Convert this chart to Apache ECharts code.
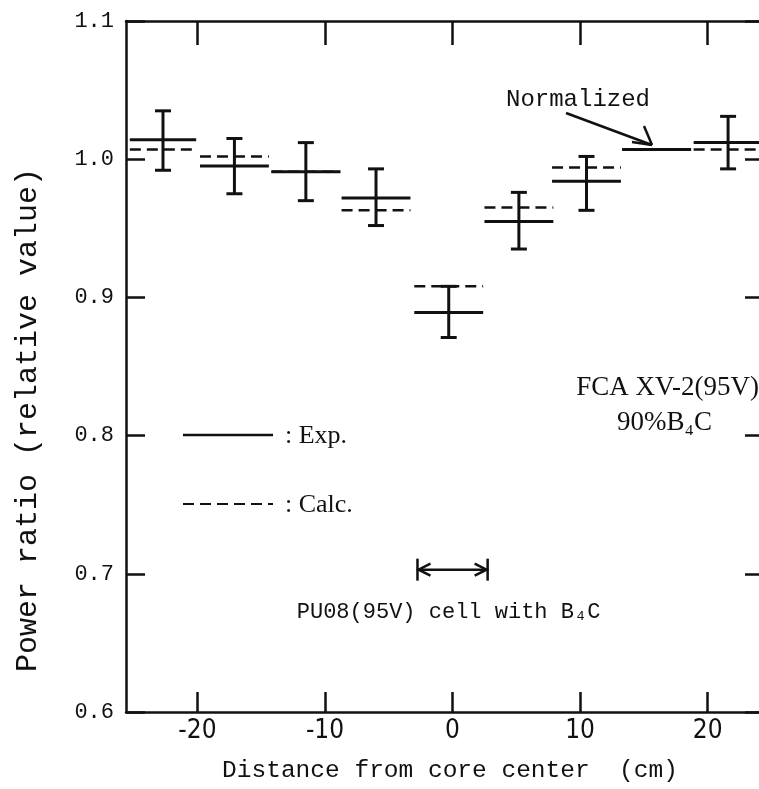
<!DOCTYPE html>
<html><head><meta charset="utf-8">
<script src="https://cdn.jsdelivr.net/npm/echarts@6/dist/echarts.min.js"></script>
<style>html,body{margin:0;padding:0;background:#fff}#c{width:759px;height:789px}</style>
</head><body><div id="c"></div>
<script>
// ---- data ----
const positions   = [-22.7, -17.1, -11.5, -6.0, -0.3, 5.2, 10.5, 16.0, 21.6];
const cellHalfWidth = [2.6, 2.7, 2.7, 2.7, 2.7, 2.7, 2.7, 2.7, 2.7];
const expValues   = [1.014, 0.995, 0.991, 0.972, 0.889, 0.955, 0.984, 1.007, 1.012];
const calcValues  = [1.007, 1.002, 0.991, 0.963, 0.908, 0.965, 0.994, 1.007, 1.007];
const errLow      = [0.992, 0.975, 0.970, 0.952, 0.871, 0.935, 0.963, null, 0.993];
const errHigh     = [1.035, 1.015, 1.012, 0.993, 0.908, 0.976, 1.002, null, 1.031];
const xTickValues = [-20, -10, 0, 10, 20];
const cellRange   = [-2.75, 2.75];
const cellArrowY  = 0.703;

const INK = '#111';
const MONO = '"Liberation Mono", "DejaVu Sans Mono", monospace';
const SERIF = '"Liberation Serif", "DejaVu Serif", serif';
const NARROW = '"Liberation Sans Narrow", "DejaVu Sans Condensed", "Liberation Sans", sans-serif';

const chart = echarts.init(document.getElementById('c'), null, {renderer: 'canvas'});

function segSeries(name, values, dash, width) {
  return {
    type: 'custom', name: name, xAxisIndex: 0, yAxisIndex: 0, clip: false,
    data: positions.map((x, i) => [x, values[i], cellHalfWidth[i]]),
    encode: {x: 0, y: 1},
    renderItem: function (params, api) {
      const x = api.value(0), y = api.value(1), hw = api.value(2);
      const a = api.coord([x - hw, y]), b = api.coord([x + hw, y]);
      return {type: 'line', shape: {x1: a[0], y1: a[1], x2: b[0], y2: b[1]},
        style: {stroke: INK, lineWidth: width, lineDash: dash}};
    }
  };
}

const errData = [];
positions.forEach((x, i) => { if (errLow[i] != null) errData.push([x, errLow[i], errHigh[i]]); });

const option = {
  backgroundColor: '#fff',
  animation: false,
  grid: {left: 126, top: 21, width: 648, height: 691, outerBoundsMode: 'none', containLabel: false},
  xAxis: [{
    type: 'value', min: -25.6, max: 25.2, position: 'bottom',
    name: 'Distance from core center  (cm)', nameLocation: 'middle', nameGap: 46,
    nameTextStyle: {fontFamily: MONO, fontSize: 24.5, color: INK},
    axisLine: {show: true, onZero: false, lineStyle: {color: INK, width: 2.5}},
    axisTick: {show: true, inside: true, length: 20, customValues: xTickValues, lineStyle: {color: INK, width: 2.5}},
    axisLabel: {show: true, customValues: xTickValues, margin: 6, fontFamily: NARROW, fontSize: 26, color: INK},
    splitLine: {show: false}
  }, {
    type: 'value', min: -25.6, max: 25.2, position: 'top',
    axisLine: {show: true, onZero: false, lineStyle: {color: INK, width: 2.5}},
    axisTick: {show: true, inside: true, length: 24, customValues: xTickValues, lineStyle: {color: INK, width: 2.5}},
    axisLabel: {show: false}, splitLine: {show: false}
  }],
  yAxis: [{
    type: 'value', min: 0.6, max: 1.1, interval: 0.1, position: 'left',
    axisLine: {show: true, onZero: false, lineStyle: {color: INK, width: 2.5}},
    axisTick: {show: true, inside: true, length: 19, lineStyle: {color: INK, width: 2.5}},
    axisLabel: {show: true, margin: 12, fontFamily: MONO, fontSize: 22, color: INK,
      formatter: v => v.toFixed(1)},
    splitLine: {show: false}
  }, {
    type: 'value', min: 0.6, max: 1.1, interval: 0.1, position: 'right',
    axisLine: {show: true, onZero: false, lineStyle: {color: INK, width: 2.5}},
    axisTick: {show: true, inside: true, length: 29, lineStyle: {color: INK, width: 2.5}},
    axisLabel: {show: false}, splitLine: {show: false}
  }],
  series: [
    segSeries('Exp.', expValues, null, 3),
    segSeries('Calc.', calcValues, [11, 6], 2.5),
    {
      type: 'custom', name: 'error', xAxisIndex: 0, yAxisIndex: 0, clip: false,
      data: errData, encode: {x: 0, y: [1, 2]},
      renderItem: function (params, api) {
        const x = api.value(0);
        const lo = api.coord([x, api.value(1)]), hi = api.coord([x, api.value(2)]);
        const cw = 8, st = {stroke: INK, lineWidth: 3};
        return {type: 'group', children: [
          {type: 'line', shape: {x1: lo[0], y1: lo[1], x2: hi[0], y2: hi[1]}, style: st},
          {type: 'line', shape: {x1: lo[0] - cw, y1: lo[1], x2: lo[0] + cw, y2: lo[1]}, style: st},
          {type: 'line', shape: {x1: hi[0] - cw, y1: hi[1], x2: hi[0] + cw, y2: hi[1]}, style: st}
        ]};
      }
    }
  ]
};
chart.setOption(option);

// annotations
const cA = chart.convertToPixel({xAxisIndex: 0, yAxisIndex: 0}, [cellRange[0], cellArrowY]);
const cB = chart.convertToPixel({xAxisIndex: 0, yAxisIndex: 0}, [cellRange[1], cellArrowY]);
const cMid = chart.convertToPixel({xAxisIndex: 0, yAxisIndex: 0}, [0, cellArrowY]);
const tip = [652, 145];
const st = {stroke: INK, lineWidth: 2.5};
chart.setOption({graphic: [
  // y axis title
  {type: 'text', x: 28, y: 420, rotation: Math.PI / 2,
    style: {text: 'Power ratio (relative value)', font: '30px ' + MONO, fill: INK, align: 'center', verticalAlign: 'middle'}},
  // legend
  {type: 'line', shape: {x1: 183, y1: 435, x2: 273, y2: 435}, style: {stroke: INK, lineWidth: 2.5}},
  {type: 'text', x: 285, y: 436, style: {text: ': Exp.', font: '26px ' + SERIF, fill: INK, verticalAlign: 'middle'}},
  {type: 'line', shape: {x1: 183, y1: 504, x2: 273, y2: 504}, style: {stroke: INK, lineWidth: 2.2, lineDash: [11, 6]}},
  {type: 'text', x: 285, y: 505, style: {text: ': Calc.', font: '26px ' + SERIF, fill: INK, verticalAlign: 'middle'}},
  // Normalized
  {type: 'text', x: 578, y: 100, style: {text: 'Normalized', font: '24px ' + MONO, fill: INK, align: 'center', verticalAlign: 'middle'}},
  {type: 'line', shape: {x1: 566, y1: 113, x2: tip[0], y2: tip[1]}, style: st},
  {type: 'line', shape: {x1: tip[0], y1: tip[1], x2: tip[0] - 8, y2: tip[1] - 19}, style: st},
  {type: 'line', shape: {x1: tip[0], y1: tip[1], x2: tip[0] - 20, y2: tip[1] - 3}, style: st},
  // FCA
  {type: 'text', x: 759, y: 388, style: {text: 'FCA XV-2(95V)', font: '27px ' + SERIF, fill: INK, align: 'right', verticalAlign: 'middle'}},
  {type: 'text', x: 712, y: 423, style: {text: '90%B₄C', font: '27px ' + SERIF, fill: INK, align: 'right', verticalAlign: 'middle'}},
  // cell arrow
  {type: 'line', shape: {x1: cA[0], y1: cA[1] - 11, x2: cA[0], y2: cA[1] + 11}, style: st},
  {type: 'line', shape: {x1: cB[0], y1: cB[1] - 11, x2: cB[0], y2: cB[1] + 11}, style: st},
  {type: 'line', shape: {x1: cA[0], y1: cA[1], x2: cB[0], y2: cB[1]}, style: st},
  {type: 'polyline', shape: {points: [[cA[0] + 13, cA[1] - 6], [cA[0] + 1, cA[1]], [cA[0] + 13, cA[1] + 6]]}, style: st},
  {type: 'polyline', shape: {points: [[cB[0] - 13, cB[1] - 6], [cB[0] - 1, cB[1]], [cB[0] - 13, cB[1] + 6]]}, style: st},
  {type: 'text', x: cMid[0] - 4, y: 612, style: {text: 'PU08(95V) cell with B₄C', font: '22px ' + MONO, fill: INK, align: 'center', verticalAlign: 'middle'}}
]});
</script>
</body></html>
